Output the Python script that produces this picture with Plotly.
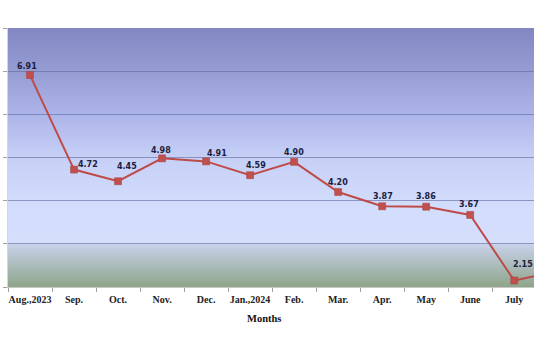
import base64
import struct
import zlib

import plotly.graph_objects as go

# Monthly series, Aug 2023 onward
months = ["Aug.,2023", "Sep.", "Oct.", "Nov.", "Dec.", "Jan.,2024", "Feb.",
          "Mar.", "Apr.", "May", "June", "July", "Aug."]
values = [6.91, 4.72, 4.45, 4.98, 4.91, 4.59, 4.90, 4.20, 3.87, 3.86, 3.67, 2.15, 2.37]

# Label offsets (px) relative to each point
label_dx = [-3, 14, 9, -1, 11, 6, 0, 0, 1, 0, -1, 9, 0]
label_dy = [9, 5, 15, 8, 8, 10, 9, 10, 10, 10, 10, 16, 10]

LINE = "#BE4B48"

# Vertical gradient for the plot area, rendered to a small PNG
stops = [
    (0.00, (130, 135, 193)),
    (0.17, (150, 157, 211)),
    (0.33, (172, 180, 232)),
    (0.50, (198, 208, 246)),
    (0.70, (211, 221, 252)),
    (0.83, (213, 223, 252)),
    (0.835, (200, 210, 234)),
    (1.00, (142, 165, 138)),
]


def colour_at(f):
    for (f0, c0), (f1, c1) in zip(stops[:-1], stops[1:]):
        if f0 <= f <= f1:
            t = 0 if f1 == f0 else (f - f0) / (f1 - f0)
            return tuple(round(a + (b - a) * t) for a, b in zip(c0, c1))
    return stops[-1][1]


def gradient_png(h=259, w=4):
    raw = b""
    for r in range(h):
        px = bytes(colour_at((r + 0.5) / h)) * w
        raw += b"\x00" + px

    def chunk(tag, data):
        c = struct.pack(">I", len(data)) + tag + data
        return c + struct.pack(">I", zlib.crc32(tag + data) & 0xFFFFFFFF)

    png = b"\x89PNG\r\n\x1a\n"
    png += chunk(b"IHDR", struct.pack(">IIBBBBB", w, h, 8, 2, 0, 0, 0))
    png += chunk(b"IDAT", zlib.compress(raw, 9))
    png += chunk(b"IEND", b"")
    return "data:image/png;base64," + base64.b64encode(png).decode()


fig = go.Figure()

fig.add_layout_image(source=gradient_png(), xref="paper", yref="paper",
                     x=0, y=1, sizex=1, sizey=1, xanchor="left", yanchor="top",
                     sizing="stretch", layer="below")

fig.add_trace(go.Scatter(
    x=months, y=values, mode="lines+markers",
    line=dict(color=LINE, width=2),
    marker=dict(symbol="square", size=7, color="#C0504D",
                line=dict(color="#A8413E", width=0.5)),
    hoverinfo="skip", showlegend=False,
))

for m, v, dx, dy in zip(months, values, label_dx, label_dy):
    fig.add_annotation(x=m, y=v, text=f"{v:.2f}", showarrow=False,
                       xshift=dx, yshift=dy,
                       font=dict(family="DejaVu Sans", size=8, color="#1C2040",
                                 weight="bold"))

fig.add_annotation(x=0.487, y=-0.12, xref="paper", yref="paper",
                   text="<b>Months</b>", showarrow=False, yanchor="middle",
                   font=dict(family="Liberation Serif", size=10.5, color="#111111"))

fig.update_layout(
    width=534, height=344,
    margin=dict(l=8, r=0, t=28, b=57),
    paper_bgcolor="white",
    plot_bgcolor="white",
    xaxis=dict(
        type="category", range=[-0.5, 11.45],
        showgrid=False, showline=True, linecolor="#C8C8C8", linewidth=1,
        ticks="outside", tickson="boundaries", ticklen=4, tickcolor="#A0A0A0",
        tickangle=0, ticklabelstandoff=3,
        tickfont=dict(family="Liberation Serif", size=10, color="#222222",
                      weight="bold"),
        fixedrange=True,
    ),
    yaxis=dict(
        range=[2, 8], dtick=1, showgrid=True,
        gridcolor="rgba(95,103,155,0.6)", gridwidth=1,
        showline=True, linecolor="#D4D4DC", linewidth=1,
        ticks="outside", ticklen=4, tickcolor="#A0A0A0",
        showticklabels=False, zeroline=False, fixedrange=True,
    ),
)

fig.write_html("out.html")
